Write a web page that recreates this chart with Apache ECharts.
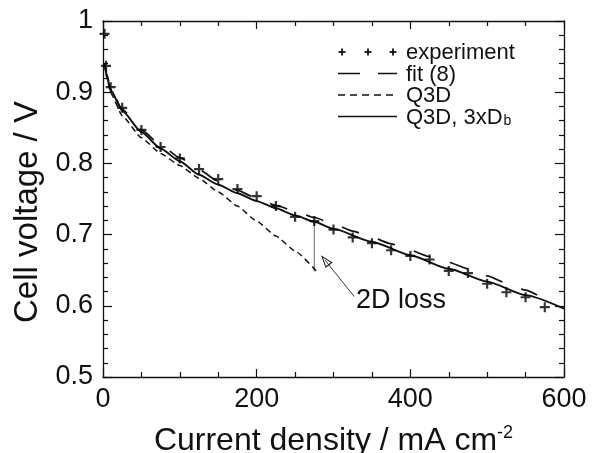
<!DOCTYPE html>
<html><head><meta charset="utf-8">
<script src="https://cdn.jsdelivr.net/npm/echarts@6/dist/echarts.min.js"></script>
<style>html,body{margin:0;padding:0;background:#fff}#c{width:592px;height:453px}</style>
</head><body><div id="c"></div>
<script>
// ---- data ----
const expX = [2, 4, 10, 25, 50, 75, 100, 125, 150, 175, 200, 225, 250, 275, 300, 325, 350, 375, 400, 425, 450, 475, 500, 525, 550, 575];
const expV = [0.982, 0.937, 0.907, 0.878, 0.847, 0.823, 0.807, 0.792, 0.778, 0.764, 0.754, 0.740, 0.725, 0.719, 0.707, 0.696, 0.688, 0.678, 0.670, 0.665, 0.649, 0.646, 0.631, 0.619, 0.612, 0.598];

const fitX = [2, 5, 10, 25, 50, 75, 100, 125, 150, 175, 200, 225, 250, 275, 300, 325, 350, 375, 400, 425, 450, 475, 500, 525, 550, 565];
const fitV = [0.940, 0.925, 0.905, 0.876, 0.847, 0.826, 0.808, 0.791, 0.775, 0.762, 0.751, 0.741, 0.733, 0.724, 0.715, 0.705, 0.696, 0.687, 0.678, 0.669, 0.661, 0.652, 0.642, 0.632, 0.622, 0.615];

const q3dX = [2, 5, 10, 25, 50, 75, 100, 125, 150, 175, 200, 225, 250, 280];
const q3dV = [0.940, 0.920, 0.899, 0.867, 0.836, 0.814, 0.797, 0.779, 0.760, 0.740, 0.719, 0.698, 0.677, 0.646];

const q3d3X = [2, 5, 10, 25, 50, 75, 100, 125, 150, 175, 200, 225, 250, 275, 300, 350, 400, 450, 500, 550, 600];
const q3d3V = [0.940, 0.922, 0.903, 0.874, 0.844, 0.821, 0.803, 0.784, 0.770, 0.758, 0.747, 0.737, 0.727, 0.718, 0.708, 0.690, 0.671, 0.652, 0.634, 0.615, 0.596];

const lossX = [275, 275];
const lossV = [0.719, 0.648];
const arrowX = [327, 289];
const arrowV = [0.613, 0.664];

const xTicks = [0, 200, 400, 600];
const yTicks = [0.5, 0.6, 0.7, 0.8, 0.9, 1];

const seriesNames = ['experiment', 'fit (8)', 'Q3D', 'Q3D, 3xD'];
const annotation = '2D loss';

// ---- chart ----
const FONT = '"Liberation Sans", Arial, Helvetica, sans-serif';
const pair = (xs, vs) => xs.map((x, i) => [x, vs[i]]);
const plusPath = 'path://M3.9,0H6.1V3.9H10V6.1H6.1V10H3.9V6.1H0V3.9H3.9Z';
const arrowPath = 'path://M5,0L10,14L0,14Z M5,3.6L1.7,12.6L8.3,12.6Z';
const BLACK = '#111';

const tickStyle = {color: BLACK, width: 1.2};
function xAx(pos, withLabel) {
  return {
    type: 'value', position: pos, min: xTicks[0], max: xTicks[xTicks.length - 1], interval: xTicks[1] - xTicks[0],
    axisLine: {show: true, onZero: false, lineStyle: {color: BLACK, width: 1.3}},
    axisTick: {show: true, inside: true, length: 8, lineStyle: tickStyle},
    minorTick: {show: true, splitNumber: 4, length: 5, lineStyle: tickStyle},
    splitLine: {show: false},
    axisLabel: {show: withLabel, fontSize: 27, color: BLACK, fontFamily: FONT, margin: 9},
    name: withLabel ? '{a|Current density / mA cm}{s|-2}' : '',
    nameLocation: 'middle', nameGap: 46,
    nameTextStyle: {fontFamily: FONT, color: BLACK, rich: {
      a: {fontSize: 32, fontFamily: FONT, color: BLACK, lineHeight: 34, verticalAlign: 'bottom'},
      s: {fontSize: 18, fontFamily: FONT, color: BLACK, lineHeight: 34, verticalAlign: 'bottom', padding: [0, 0, 15, 0]}
    }}
  };
}
function yAx(pos, withLabel) {
  return {
    type: 'value', position: pos, min: yTicks[0], max: yTicks[yTicks.length - 1], interval: 0.1,
    axisLine: {show: true, onZero: false, lineStyle: {color: BLACK, width: 1.3}},
    axisTick: {show: true, inside: true, length: 9, lineStyle: tickStyle},
    minorTick: {show: true, splitNumber: 5, length: 5, lineStyle: tickStyle},
    splitLine: {show: false},
    axisLabel: {show: withLabel, fontSize: 27, color: BLACK, fontFamily: FONT, margin: 10,
      formatter: v => (Math.abs(v - 1) < 1e-9 ? '1' : v.toFixed(1))},
    name: withLabel ? 'Cell voltage / V' : '',
    nameLocation: 'middle', nameGap: 57,
    nameTextStyle: {fontSize: 33, fontFamily: FONT, color: BLACK, padding: [0, 26, 0, 0]}
  };
}

const legendRows = [52, 73.5, 95, 116.5];
const lgX0 = 338, lgX1 = 397, lgText = 406;
const graphics = [];
// experiment: three plus marks
[342, 368, 393].forEach(cx => {
  graphics.push({type: 'rect', shape: {x: cx - 3.5, y: legendRows[0] - 0.9, width: 7, height: 1.8}, style: {fill: BLACK}});
  graphics.push({type: 'rect', shape: {x: cx - 0.9, y: legendRows[0] - 3.5, width: 1.8, height: 7}, style: {fill: BLACK}});
});
graphics.push({type: 'line', shape: {x1: lgX0, y1: legendRows[1], x2: lgX1, y2: legendRows[1]}, style: {stroke: BLACK, lineWidth: 1.6, lineDash: [22, 18]}});
graphics.push({type: 'line', shape: {x1: lgX0, y1: legendRows[2], x2: lgX1, y2: legendRows[2]}, style: {stroke: BLACK, lineWidth: 1.5, lineDash: [7, 5]}});
graphics.push({type: 'line', shape: {x1: lgX0, y1: legendRows[3], x2: lgX1, y2: legendRows[3]}, style: {stroke: BLACK, lineWidth: 1.7}});
seriesNames.forEach((n, i) => {
  const txt = i === 3 ? '{t|' + n + '}{s|b}' : '{t|' + n + '}';
  graphics.push({type: 'text', left: lgText, top: legendRows[i] - 10, style: {
    text: txt, fontFamily: FONT, fill: BLACK,
    rich: {t: {fontSize: 22, fontFamily: FONT, lineHeight: 22, verticalAlign: 'bottom', fill: BLACK},
           s: {fontSize: 14, fontFamily: FONT, lineHeight: 22, verticalAlign: 'bottom', fill: BLACK, padding: [0, 0, 0, 1]}}
  }});
});
graphics.push({type: 'text', left: 356, top: 287, style: {text: annotation, fontSize: 27, fontFamily: FONT, fill: BLACK}});

const chart = echarts.init(document.getElementById('c'));
chart.setOption({
  backgroundColor: '#fff',
  animation: false,
  grid: {left: 103, top: 21, right: 28, bottom: 76, containLabel: false, outerBoundsMode: 'none'},
  xAxis: [xAx('bottom', true), xAx('top', false)],
  yAxis: [yAx('left', true), yAx('right', false)],
  series: [
    {type: 'line', name: 'Q3D', data: pair(q3dX, q3dV), symbol: 'none', smooth: 0.15, smoothMonotone: 'x',
     lineStyle: {color: BLACK, width: 1.5, type: [6, 4]}, z: 2},
    {type: 'line', name: 'fit (8)', data: pair(fitX, fitV), symbol: 'none', smooth: 0.2, smoothMonotone: 'x',
     lineStyle: {color: BLACK, width: 1.7, type: [18, 20]}, z: 2},
    {type: 'line', name: 'Q3D, 3xDb', data: pair(q3d3X, q3d3V), symbol: 'none', smooth: 0.2, smoothMonotone: 'x',
     lineStyle: {color: BLACK, width: 1.9}, z: 3},
    {type: 'scatter', name: 'experiment', data: pair(expX, expV), symbol: plusPath, symbolSize: 10,
     itemStyle: {color: '#000'}, z: 5},
    {type: 'line', name: '2D loss', data: pair(lossX, lossV), symbol: 'none',
     lineStyle: {color: '#444', width: 0.8}, z: 1,
     markLine: {silent: true, symbol: ['none', arrowPath], symbolSize: [9, 13], label: {show: false},
       lineStyle: {color: '#222', width: 0.9, type: 'solid'},
       data: [[{coord: [arrowX[0], arrowV[0]]}, {coord: [arrowX[1], arrowV[1]]}]]}}
  ],
  graphic: graphics
});
</script></body></html>
